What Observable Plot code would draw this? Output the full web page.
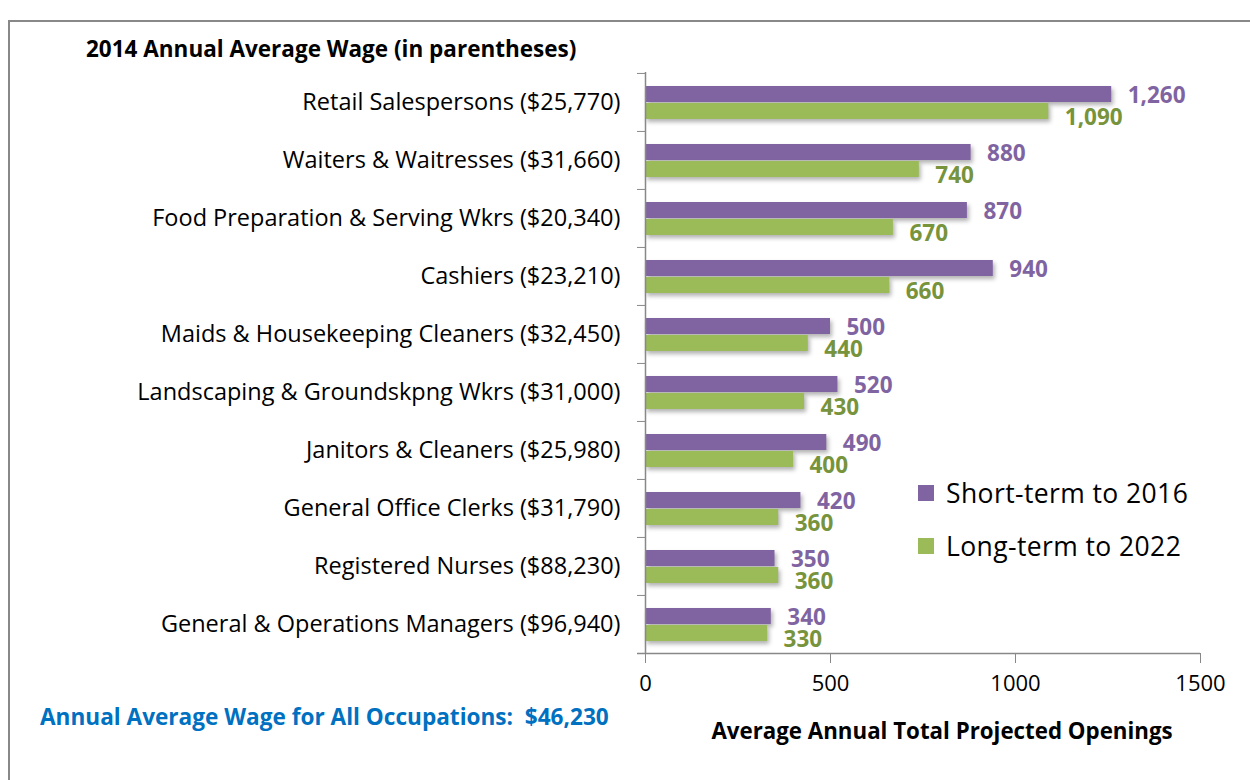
<!DOCTYPE html>
<html>
<head>
<meta charset="utf-8">
<script src="https://cdn.jsdelivr.net/npm/d3@7"></script>
<script src="https://cdn.jsdelivr.net/npm/@observablehq/plot@0.6"></script>
<style>
  body { margin: 0; background: #fff; }
  #wrap { position: relative; width: 1250px; height: 780px; overflow: hidden; font-family: "Open Sans", Lato, sans-serif; }
  #frame { position: absolute; left: 8px; top: 20px; width: 1300px; height: 800px; border-left: 2px solid #888; border-top: 2px solid #888; }
  #chart { position: absolute; left: 0; top: 0; }
  .title { position: absolute; left: 86px; top: 33px; font-size: 22.5px; font-weight: bold; color: #000; white-space: nowrap; }
  .foot { position: absolute; left: 40px; top: 701px; font-size: 22.6px; font-weight: bold; color: #0070C0; white-space: pre; }
  .xlabel { position: absolute; left: 942px; top: 715px; transform: translateX(-50%); font-size: 22.3px; font-weight: bold; color: #000; white-space: nowrap; }
  .legend { position: absolute; left: 918px; top: 466px; font-size: 26.5px; letter-spacing: 0.4px; color: #000; }
  .legend div { display: flex; align-items: center; height: 53px; }
  .legend span.sw { display: inline-block; width: 16px; height: 16px; margin-right: 12px; }
</style>
</head>
<body>
<div id="wrap">
  <div id="frame"></div>
  <div id="chart"></div>
  <div class="title">2014 Annual Average Wage (in parentheses)</div>
  <div class="foot">Annual Average Wage for All Occupations:  $46,230</div>
  <div class="xlabel">Average Annual Total Projected Openings</div>
  <div class="legend" id="legend"></div>
</div>
<script>
const occupations = [
  "Retail Salespersons ($25,770)",
  "Waiters & Waitresses ($31,660)",
  "Food Preparation & Serving Wkrs ($20,340)",
  "Cashiers ($23,210)",
  "Maids & Housekeeping Cleaners ($32,450)",
  "Landscaping & Groundskpng Wkrs ($31,000)",
  "Janitors & Cleaners ($25,980)",
  "General Office Clerks ($31,790)",
  "Registered Nurses ($88,230)",
  "General & Operations Managers ($96,940)"
];
const shortTerm = [1260, 880, 870, 940, 500, 520, 490, 420, 350, 340];
const longTerm = [1090, 740, 670, 660, 440, 430, 400, 360, 360, 330];
const seriesNames = ["Short-term to 2016", "Long-term to 2022"];
const xTicks = [0, 500, 1000, 1500];

const purple = "#8064A2", green = "#9BBB59";
const purpleText = "#8064A2", greenText = "#77933C";

const shortData = occupations.map((o, i) => ({occ: o, v: shortTerm[i]}));
const longData = occupations.map((o, i) => ({occ: o, v: longTerm[i]}));

const W = 1250, H = 780, mTop = 72, mBottom = 127, mLeft = 645, mRight = 50;
const step = (H - mTop - mBottom) / occupations.length;
const fmt = d3.format(",");

const plot = Plot.plot({
  width: W, height: H,
  marginTop: mTop, marginBottom: mBottom, marginLeft: mLeft, marginRight: mRight,
  style: {fontFamily: "'Open Sans', Lato, sans-serif", color: "#000", background: "transparent"},
  x: {domain: [0, 1500], axis: null},
  y: {domain: occupations, padding: 0, axis: null},
  marks: [
    Plot.barX(shortData, {x: "v", y: "occ", fill: purple, insetTop: 13, insetBottom: 29}),
    Plot.barX(longData, {x: "v", y: "occ", fill: green, insetTop: 30, insetBottom: 12}),
    Plot.ruleX([0], {stroke: "#888", strokeWidth: 1.5}),
    Plot.ruleY([occupations[occupations.length - 1]], {x1: 0, x2: 1500, dy: step / 2, insetLeft: -8, stroke: "#888", strokeWidth: 1.5}),
    Plot.axisY({tickSize: 0, tickPadding: 25, fontSize: 23.5, label: null}),
    Plot.axisY({tickSize: 8, tickFormat: () => "", dy: -step / 2, stroke: "#888", label: null}),
    Plot.axisX({ticks: xTicks, tickSize: 10, tickPadding: 12, fontSize: 22, tickFormat: d3.format("d"), stroke: "#888", label: null}),
    Plot.text(shortData, {x: "v", y: "occ", text: d => fmt(d.v), dx: 16, dy: -6.5, textAnchor: "start", fill: purpleText, fontWeight: "bold", fontSize: 22.5}),
    Plot.text(longData, {x: "v", y: "occ", text: d => fmt(d.v), dx: 16, dy: 15.5, textAnchor: "start", fill: greenText, fontWeight: "bold", fontSize: 22.5})
  ]
});
document.getElementById("chart").appendChild(plot);
d3.select(plot).selectAll("g[aria-label='bar']").style("filter", "drop-shadow(2px 3px 2px rgba(0,0,0,0.3))");

const legend = document.getElementById("legend");
[purple, green].forEach((c, i) => {
  const row = document.createElement("div");
  row.innerHTML = `<span class="sw" style="background:${c}"></span>${seriesNames[i]}`;
  legend.appendChild(row);
});
</script>
</body>
</html>
